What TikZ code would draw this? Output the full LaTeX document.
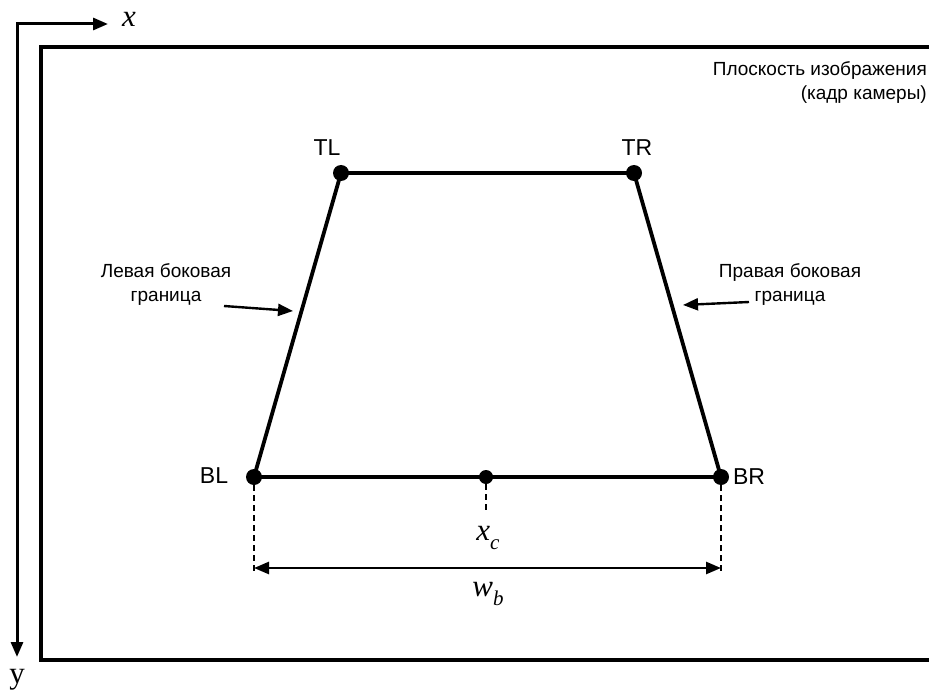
\documentclass[tikz,border=0pt]{standalone}
\usepackage{fontspec}
\setmainfont{Liberation Sans}
\newfontfamily\serifit{Liberation Serif}
\usetikzlibrary{arrows.meta}
\newcommand{\mvar}[2]{{\serifit\itshape #1\raisebox{-0.28em}{\fontsize{21}{21}\selectfont #2}}}
\begin{document}
\begin{tikzpicture}[x=1pt,y=-1pt,
  thick line/.style={line width=3.8pt},
  pt/.style={circle,fill=black,inner sep=0pt,minimum size=16pt},
  lbl/.style={font=\fontsize{23}{25}\selectfont},
  note/.style={font=\fontsize{19}{24}\selectfont,align=center},
  arr/.style={line width=2.4pt,-{Triangle[length=15pt,width=12pt]}},
  dim/.style={line width=2.6pt,{Triangle[length=15pt,width=12pt]}-{Triangle[length=15pt,width=12pt]}},
  dsh/.style={line width=1.5pt,dash pattern=on 6pt off 4pt},
  mth/.style={font=\fontsize{31}{31}\selectfont}]
\useasboundingbox (0,0) rectangle (929,698);
\clip (0,0) rectangle (929,698);
% axes
\coordinate (xe) at (108,24);
\coordinate (ye) at (17,657);
\draw[line width=3pt,-{Triangle[length=15pt,width=12pt]}] (17,640) -- (17,24) -- (xe);
\draw[line width=3pt,-{Triangle[length=15pt,width=12pt]}] (17,30) -- (ye);
\node[mth] (xl) at (129,19) {\serifit\itshape x};
\node[mth] (yl) at (17,680) {\serifit y};
% frame
\draw[line width=3.8pt] (945,47) -- (41,47) -- (41,660) -- (945,660);
\node[note,align=right,anchor=north east,inner sep=1pt] (plane) at (928,60) {Плоскость изображения\\(кадр камеры)};
% points
\coordinate (TL) at (341,173);
\coordinate (TR) at (634,173);
\coordinate (BL) at (254,477);
\coordinate (BR) at (721,477);
\coordinate (XC) at (486,477);
\draw[thick line,line join=round] (TL) -- (TR) -- (BR) -- (BL) -- cycle;
\node[pt] (pTL) at (TL) {};
\node[pt] (pTR) at (TR) {};
\node[pt] (pBL) at (BL) {};
\node[pt] (pBR) at (BR) {};
\node[pt,minimum size=14pt] (pXC) at (XC) {};
\node[lbl] (tTL) at (327,148) {TL};
\node[lbl] (tTR) at (637,148) {TR};
\node[lbl] (tBL) at (214,476) {BL};
\node[lbl] (tBR) at (749,477) {BR};
% side labels
\node[note] (lleft) at (166,285) {Левая боковая\\граница};
\node[note] (lright) at (790,285) {Правая боковая\\граница};
\coordinate (la) at (224,306);
\coordinate (lb) at (293,311);
\coordinate (ra) at (749,302);
\coordinate (rb) at (683,305);
\draw[arr] (la) -- (lb);
\draw[arr] (ra) -- (rb);
% dimension
\coordinate (BLd) at (254,574);
\coordinate (BRd) at (721,574);
\coordinate (XCd) at (486,512);
\draw[dsh] (pBL) -- (BLd);
\draw[dsh] (pBR) -- (BRd);
\draw[dsh] (pXC) -- (XCd);
\coordinate (da) at (254,568);
\coordinate (db) at (721,568);
\draw[dim] (da) -- (db);
\node[mth] (xc) at (488,538) {\mvar{x}{c}};
\node[mth] (wb) at (488,594) {\mvar{w}{b}};
\end{tikzpicture}
\end{document}
